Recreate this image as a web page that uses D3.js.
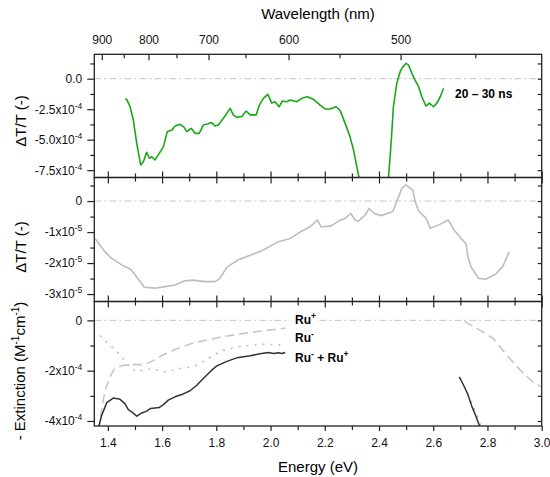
<!DOCTYPE html>
<html>
<head>
<meta charset="utf-8">
<script src="https://cdn.jsdelivr.net/npm/d3@7"></script>
<style>
  body { margin: 0; background: white; }
  svg { display: block; font-family: Arial, 'Liberation Sans', sans-serif; }
</style>
</head>
<body>
<main></main>
<script>
// ---- data (energy in eV, signals) ----
const greenEnergy = [1.464, 1.470, 1.482, 1.494, 1.5065, 1.521, 1.531, 1.543, 1.553, 1.562, 1.574, 1.586,
  1.605, 1.619, 1.636, 1.648, 1.666, 1.680, 1.691, 1.707, 1.7216, 1.737, 1.752, 1.770, 1.783, 1.795,
  1.8076, 1.826, 1.851, 1.863, 1.8755, 1.894, 1.910, 1.9246, 1.9467, 1.959, 1.9736, 1.990, 2.0046,
  2.0168, 2.0316, 2.0437, 2.060, 2.072, 2.097, 2.115, 2.136, 2.158, 2.183, 2.201, 2.220, 2.242, 2.257,
  2.275, 2.293, 2.306, 2.318, 2.326, 2.335, 2.430, 2.435, 2.441, 2.447, 2.453, 2.4655, 2.478, 2.4866,
  2.500, 2.509, 2.521, 2.533, 2.546, 2.558, 2.573, 2.586, 2.601, 2.6135, 2.626, 2.638];
const greenDT = [-1.66e-4, -1.72e-4, -2.30e-4, -3.39e-4, -5.30e-4, -7.07e-4, -6.80e-4, -6.03e-4, -6.52e-4,
  -6.40e-4, -6.66e-4, -6.25e-4, -5.57e-4, -4.34e-4, -4.20e-4, -3.88e-4, -3.74e-4, -3.95e-4, -4.34e-4,
  -4.07e-4, -4.48e-4, -4.48e-4, -3.80e-4, -3.70e-4, -3.60e-4, -3.88e-4, -3.80e-4, -3.25e-4, -2.43e-4,
  -2.98e-4, -3.17e-4, -3.10e-4, -2.65e-4, -2.97e-4, -2.97e-4, -2.16e-4, -1.61e-4, -1.28e-4, -2.00e-4,
  -1.89e-4, -2.30e-4, -1.83e-4, -1.89e-4, -1.75e-4, -1.89e-4, -1.61e-4, -1.48e-4, -1.69e-4, -2.16e-4,
  -2.48e-4, -2.48e-4, -2.30e-4, -2.62e-4, -3.66e-4, -4.75e-4, -5.84e-4, -7.20e-4, -8.08e-4, -9.30e-4,
  -9.30e-4, -8.08e-4, -6.40e-4, -4.48e-4, -2.30e-4, -0.38e-4, 0.57e-4, 0.93e-4, 1.26e-4, 1.12e-4,
  0.44e-4, -0.11e-4, -0.66e-4, -1.48e-4, -2.24e-4, -2.00e-4, -2.30e-4, -2.00e-4, -1.48e-4, -0.79e-4];

const greyEnergy = [1.353, 1.3895, 1.414, 1.451, 1.484, 1.510, 1.5345, 1.574, 1.611, 1.648, 1.681, 1.713,
  1.7585, 1.795, 1.811, 1.8386, 1.881, 1.931, 1.9736, 2.029, 2.072, 2.109, 2.146, 2.173, 2.1865, 2.222,
  2.254, 2.275, 2.296, 2.312, 2.324, 2.349, 2.364, 2.382, 2.408, 2.431, 2.451, 2.472, 2.484, 2.499, 2.525,
  2.5335, 2.546, 2.574, 2.589, 2.623, 2.656, 2.675, 2.699, 2.721, 2.7265, 2.739, 2.767, 2.792, 2.831,
  2.857, 2.880];
const greyDT = [-1.21e-5, -1.64e-5, -1.85e-5, -2.06e-5, -2.20e-5, -2.49e-5, -2.78e-5, -2.81e-5, -2.76e-5,
  -2.71e-5, -2.58e-5, -2.55e-5, -2.60e-5, -2.60e-5, -2.52e-5, -2.14e-5, -1.89e-5, -1.73e-5, -1.58e-5,
  -1.31e-5, -1.21e-5, -1.00e-5, -0.83e-5, -0.61e-5, -0.83e-5, -0.81e-5, -0.63e-5, -0.56e-5, -0.40e-5,
  -0.61e-5, -0.65e-5, -0.45e-5, -0.24e-5, -0.40e-5, -0.47e-5, -0.40e-5, -0.34e-5, 0.14e-5, 0.41e-5,
  0.52e-5, 0.35e-5, -0.02e-5, -0.32e-5, -0.56e-5, -0.88e-5, -0.76e-5, -0.61e-5, -0.91e-5, -1.17e-5,
  -1.38e-5, -1.74e-5, -2.12e-5, -2.49e-5, -2.52e-5, -2.35e-5, -2.10e-5, -1.64e-5];

// null marks the gap between the two measured ranges
const sumEnergy = [1.362, 1.377, 1.396, 1.420, 1.445, 1.463, 1.4755, 1.488, 1.5065, 1.525, 1.543, 1.558,
  1.590, 1.605, 1.623, 1.648, 1.6725, 1.703, 1.728, 1.752, 1.783, 1.802, 1.839, 1.8755, 1.925, 1.961,
  1.992, 2.0105, 2.029, 2.0415, 2.054, 2.3, 2.696, 2.712, 2.7265, 2.743, 2.755, 2.771, 2.780];
const sumExt = [-4.40e-4, -3.78e-4, -3.27e-4, -3.09e-4, -3.14e-4, -3.31e-4, -3.55e-4, -3.64e-4, -3.81e-4,
  -3.68e-4, -3.61e-4, -3.50e-4, -3.46e-4, -3.35e-4, -3.17e-4, -3.04e-4, -2.95e-4, -2.80e-4, -2.58e-4,
  -2.31e-4, -1.98e-4, -1.81e-4, -1.63e-4, -1.49e-4, -1.41e-4, -1.33e-4, -1.28e-4, -1.32e-4, -1.29e-4,
  -1.32e-4, -1.28e-4, null, -2.25e-4, -2.58e-4, -2.91e-4, -3.44e-4, -3.74e-4, -4.21e-4, -4.45e-4];

const cationEnergy = [1.366, 1.377, 1.3895, 1.408, 1.426, 1.457, 1.494, 1.537, 1.568, 1.605, 1.654, 1.715,
  1.777, 1.839, 1.912, 1.986, 2.054, 2.3, 2.7155, 2.730, 2.7795, 2.822, 2.872, 2.921, 2.970, 3.000];
const cationExt = [-4.40e-4, -3.57e-4, -2.78e-4, -2.25e-4, -1.89e-4, -1.79e-4, -1.76e-4, -1.76e-4, -1.59e-4,
  -1.37e-4, -1.13e-4, -0.90e-4, -0.75e-4, -0.62e-4, -0.50e-4, -0.40e-4, -0.31e-4, null, -0.04e-4,
  -0.13e-4, -0.44e-4, -0.73e-4, -1.39e-4, -1.98e-4, -2.47e-4, -2.65e-4];

const anionEnergy = [1.371, 1.408, 1.445, 1.4695, 1.504, 1.537, 1.568, 1.605, 1.6415, 1.678, 1.715, 1.752,
  1.789, 1.826, 1.8755, 1.925, 1.974, 2.0105, 2.054, 2.3, 2.740, 2.760, 2.785, 2.900, 2.947];
const anionExt = [-0.60e-4, -0.99e-4, -1.36e-4, -1.72e-4, -2.05e-4, -1.96e-4, -1.92e-4, -2.05e-4, -1.98e-4,
  -1.89e-4, -1.85e-4, -1.63e-4, -1.39e-4, -1.19e-4, -1.06e-4, -0.99e-4, -0.95e-4, -0.96e-4, -0.99e-4,
  null, -3.20e-4, -3.75e-4, -4.45e-4, -4.70e-4, -4.10e-4];

// ticks
const energyMajor = [1.4, 1.6, 1.8, 2.0, 2.2, 2.4, 2.6, 2.8, 3.0];
const energyMinor = [1.5, 1.7, 1.9, 2.1, 2.3, 2.5, 2.7, 2.9];
const wavelengthMajor = [900, 800, 700, 600, 500];
const wavelengthMinor = [850, 750, 650, 550, 450];

const topTicks = [0, -2.5e-4, -5e-4, -7.5e-4];
const topTickLabels = [['0.0', ''], ['-2.5x10', '-4'], ['-5.0x10', '-4'], ['-7.5x10', '-4']];
const topMinor = [1.25e-4, -1.25e-4, -3.75e-4, -6.25e-4];
const midTicks = [0, -1e-5, -2e-5, -3e-5];
const midTickLabels = [['0', ''], ['-1x10', '-5'], ['-2x10', '-5'], ['-3x10', '-5']];
const midMinor = [0.5e-5, -0.5e-5, -1.5e-5, -2.5e-5];
const botTicks = [0, -2e-4, -4e-4];
const botTickLabels = [['0', ''], ['-2x10', '-4'], ['-4x10', '-4']];
const botMinor = [-1e-4, -3e-4];

const HC = 1239.84;
const width = 550;
const height = 477;
const left = 94.3;
const right = 541.7;
const frame = '#222';
const green = '#17a817';
const grey = '#bdbdbd';
const lightGrey = '#c6c6c6';

const svg = d3.select('main')
  .append('svg')
  .attr('width', width)
  .attr('height', height)
  .style('background-color', 'white');

const x = d3.scaleLinear().domain([1.35, 3.0]).range([left, right]);
// wavelength axis is linear in 1/lambda
const xWl = d3.scalePow().exponent(-1).domain([HC / 1.35, HC / 3.0]).range([left, right]);

const panels = [
  { id: 'top', y: d3.scaleLinear().domain([-8.1e-4, 2.0e-4]).range([177.5, 54.3]),
    ticks: topTicks, labels: topTickLabels, minor: topMinor },
  { id: 'mid', y: d3.scaleLinear().domain([-3.24e-5, 0.76e-5]).range([301.5, 177.5]),
    ticks: midTicks, labels: midTickLabels, minor: midMinor },
  { id: 'bot', y: d3.scaleLinear().domain([-4.2e-4, 0.75e-4]).range([426, 301.5]),
    ticks: botTicks, labels: botTickLabels, minor: botMinor }
];

const styleAxis = g => {
  g.select('.domain').remove();
  g.selectAll('line').attr('stroke', frame).attr('stroke-width', 1.2);
  g.selectAll('text').attr('font-size', 12).attr('fill', '#111').attr('font-family', null);
};

panels.forEach((p, i) => {
  const y = p.y;
  const [y1, y0] = y.range();

  svg.append('clipPath')
    .attr('id', `clip-${p.id}`)
    .append('rect')
    .attr('x', left)
    .attr('y', y0)
    .attr('width', right - left)
    .attr('height', y1 - y0);

  // zero line
  svg.append('line')
    .attr('x1', left).attr('x2', right)
    .attr('y1', y(0)).attr('y2', y(0))
    .attr('stroke', lightGrey)
    .attr('stroke-width', 1)
    .attr('stroke-dasharray', '7,3,2,3');

  // left axis, outward ticks
  svg.append('g')
    .attr('transform', `translate(${left},0)`)
    .call(d3.axisLeft(y).tickValues(p.minor).tickSize(4).tickFormat(''))
    .call(styleAxis);
  const ly = svg.append('g')
    .attr('transform', `translate(${left},0)`)
    .call(d3.axisLeft(y).tickValues(p.ticks).tickSize(7).tickPadding(5))
    .call(styleAxis);
  ly.selectAll('.tick text').each(function (d, k) {
    const t = d3.select(this).text(null);
    t.append('tspan').text(p.labels[k][0]);
    if (p.labels[k][1]) {
      t.append('tspan').attr('dy', -5).attr('font-size', 8.5).text(p.labels[k][1]);
    }
  });

  // right axis, inward ticks
  svg.append('g')
    .attr('transform', `translate(${right},0)`)
    .call(d3.axisLeft(y).tickValues(p.ticks.concat(p.minor)).tickSize(4).tickFormat(''))
    .call(styleAxis);

  // energy ticks on the bottom edge
  if (i < 2) {
    svg.append('g')
      .attr('transform', `translate(0,${y1})`)
      .call(d3.axisTop(x).tickValues(energyMajor).tickSize(6).tickFormat(''))
      .call(styleAxis);
    svg.append('g')
      .attr('transform', `translate(0,${y1})`)
      .call(d3.axisTop(x).tickValues(energyMinor).tickSize(4).tickFormat(''))
      .call(styleAxis);
  } else {
    svg.append('g')
      .attr('transform', `translate(0,${y1})`)
      .call(d3.axisBottom(x).tickValues(energyMinor).tickSize(4).tickFormat(''))
      .call(styleAxis);
    const bx = svg.append('g')
      .attr('transform', `translate(0,${y1})`)
      .call(d3.axisBottom(x).tickValues(energyMajor).tickSize(5).tickPadding(7).tickFormat(d3.format('.1f')))
      .call(styleAxis);
  }

  // top edge: wavelength for the first panel, energy for the others
  if (i === 0) {
    svg.append('g')
      .attr('transform', `translate(0,${y0})`)
      .call(d3.axisBottom(xWl).tickValues(wavelengthMinor).tickSize(4).tickFormat(''))
      .call(styleAxis);
    svg.append('g')
      .attr('transform', `translate(0,${y0})`)
      .call(d3.axisBottom(xWl).tickValues(wavelengthMajor).tickSize(6).tickFormat(''))
      .call(styleAxis);
    svg.append('g')
      .attr('transform', `translate(0,${y0})`)
      .call(d3.axisTop(xWl).tickValues(wavelengthMajor).tickSize(0).tickPadding(10))
      .call(styleAxis);
  } else {
    svg.append('g')
      .attr('transform', `translate(0,${y0})`)
      .call(d3.axisBottom(x).tickValues(energyMajor).tickSize(6).tickFormat(''))
      .call(styleAxis);
    svg.append('g')
      .attr('transform', `translate(0,${y0})`)
      .call(d3.axisBottom(x).tickValues(energyMinor).tickSize(4).tickFormat(''))
      .call(styleAxis);
  }
});

const [pTop, pMid, pBot] = panels;

const drawLine = (p, xs, ys, color, dash, w) => {
  const pts = xs.map((e, k) => [e, ys[k]]);
  const line = d3.line()
    .defined(d => d[1] !== null)
    .x(d => x(d[0]))
    .y(d => p.y(d[1]));
  svg.append('path')
    .datum(pts)
    .attr('clip-path', `url(#clip-${p.id})`)
    .attr('d', line)
    .attr('fill', 'none')
    .attr('stroke', color)
    .attr('stroke-width', w)
    .attr('stroke-linejoin', 'round')
    .attr('stroke-dasharray', dash);
};

drawLine(pTop, greenEnergy, greenDT, green, null, 1.6);
drawLine(pMid, greyEnergy, greyDT, grey, null, 1.6);
drawLine(pBot, cationEnergy, cationExt, lightGrey, '9,5', 1.6);
drawLine(pBot, anionEnergy, anionExt, '#bbbbbb', '2,6', 1.6);
drawLine(pBot, sumEnergy, sumExt, '#333', null, 1.5);

// frames
panels.forEach(p => {
  const [y1, y0] = p.y.range();
  svg.append('rect')
    .attr('x', left).attr('y', y0)
    .attr('width', right - left).attr('height', y1 - y0)
    .attr('fill', 'none')
    .attr('stroke', frame)
    .attr('stroke-width', 1.3);
});

// annotation
svg.append('text')
  .attr('x', 455).attr('y', 98)
  .attr('font-size', 12).attr('font-weight', 'bold')
  .text('20 – 30 ns');

// legend in the bottom panel
svg.append('rect')
  .attr('x', 290).attr('y', pBot.y(0) - 7)
  .attr('width', 28).attr('height', 14)
  .attr('fill', 'white');

const legend = [
  { y: 324, parts: [['Ru', 0], ['+', 1]] },
  { y: 342, parts: [['Ru', 0], ['-', 1]] },
  { y: 362, parts: [['Ru', 0], ['-', 1], [' + Ru', 0], ['+', 1]] }
];
legend.forEach(l => {
  const t = svg.append('text')
    .attr('x', 295).attr('y', l.y)
    .attr('font-size', 12).attr('font-weight', 'bold');
  let up = false;
  l.parts.forEach(([s, sup]) => {
    const ts = t.append('tspan').text(s);
    if (sup && !up) { ts.attr('dy', -5).attr('font-size', 8.5); up = true; }
    else if (sup) { ts.attr('font-size', 8.5); }
    else if (up) { ts.attr('dy', 5); up = false; }
  });
});

// axis titles
svg.append('text')
  .attr('x', (left + right) / 2).attr('y', 19)
  .attr('text-anchor', 'middle').attr('font-size', 15)
  .text('Wavelength (nm)');

svg.append('text')
  .attr('x', (left + right) / 2).attr('y', 472)
  .attr('text-anchor', 'middle').attr('font-size', 15)
  .text('Energy (eV)');

svg.append('text')
  .attr('transform', 'translate(26,121) rotate(-90)')
  .attr('text-anchor', 'middle').attr('font-size', 15)
  .text('ΔT/T (-)');

svg.append('text')
  .attr('transform', 'translate(26,247) rotate(-90)')
  .attr('text-anchor', 'middle').attr('font-size', 15)
  .text('ΔT/T (-)');

const ext = svg.append('text')
  .attr('transform', 'translate(25,371) rotate(-90)')
  .attr('text-anchor', 'middle').attr('font-size', 15);
ext.append('tspan').text('- Extinction (M');
ext.append('tspan').attr('dy', -6).attr('font-size', 10).text('-1');
ext.append('tspan').attr('dy', 6).text('cm');
ext.append('tspan').attr('dy', -6).attr('font-size', 10).text('-1');
ext.append('tspan').attr('dy', 6).text(')');
</script>
</body>
</html>
